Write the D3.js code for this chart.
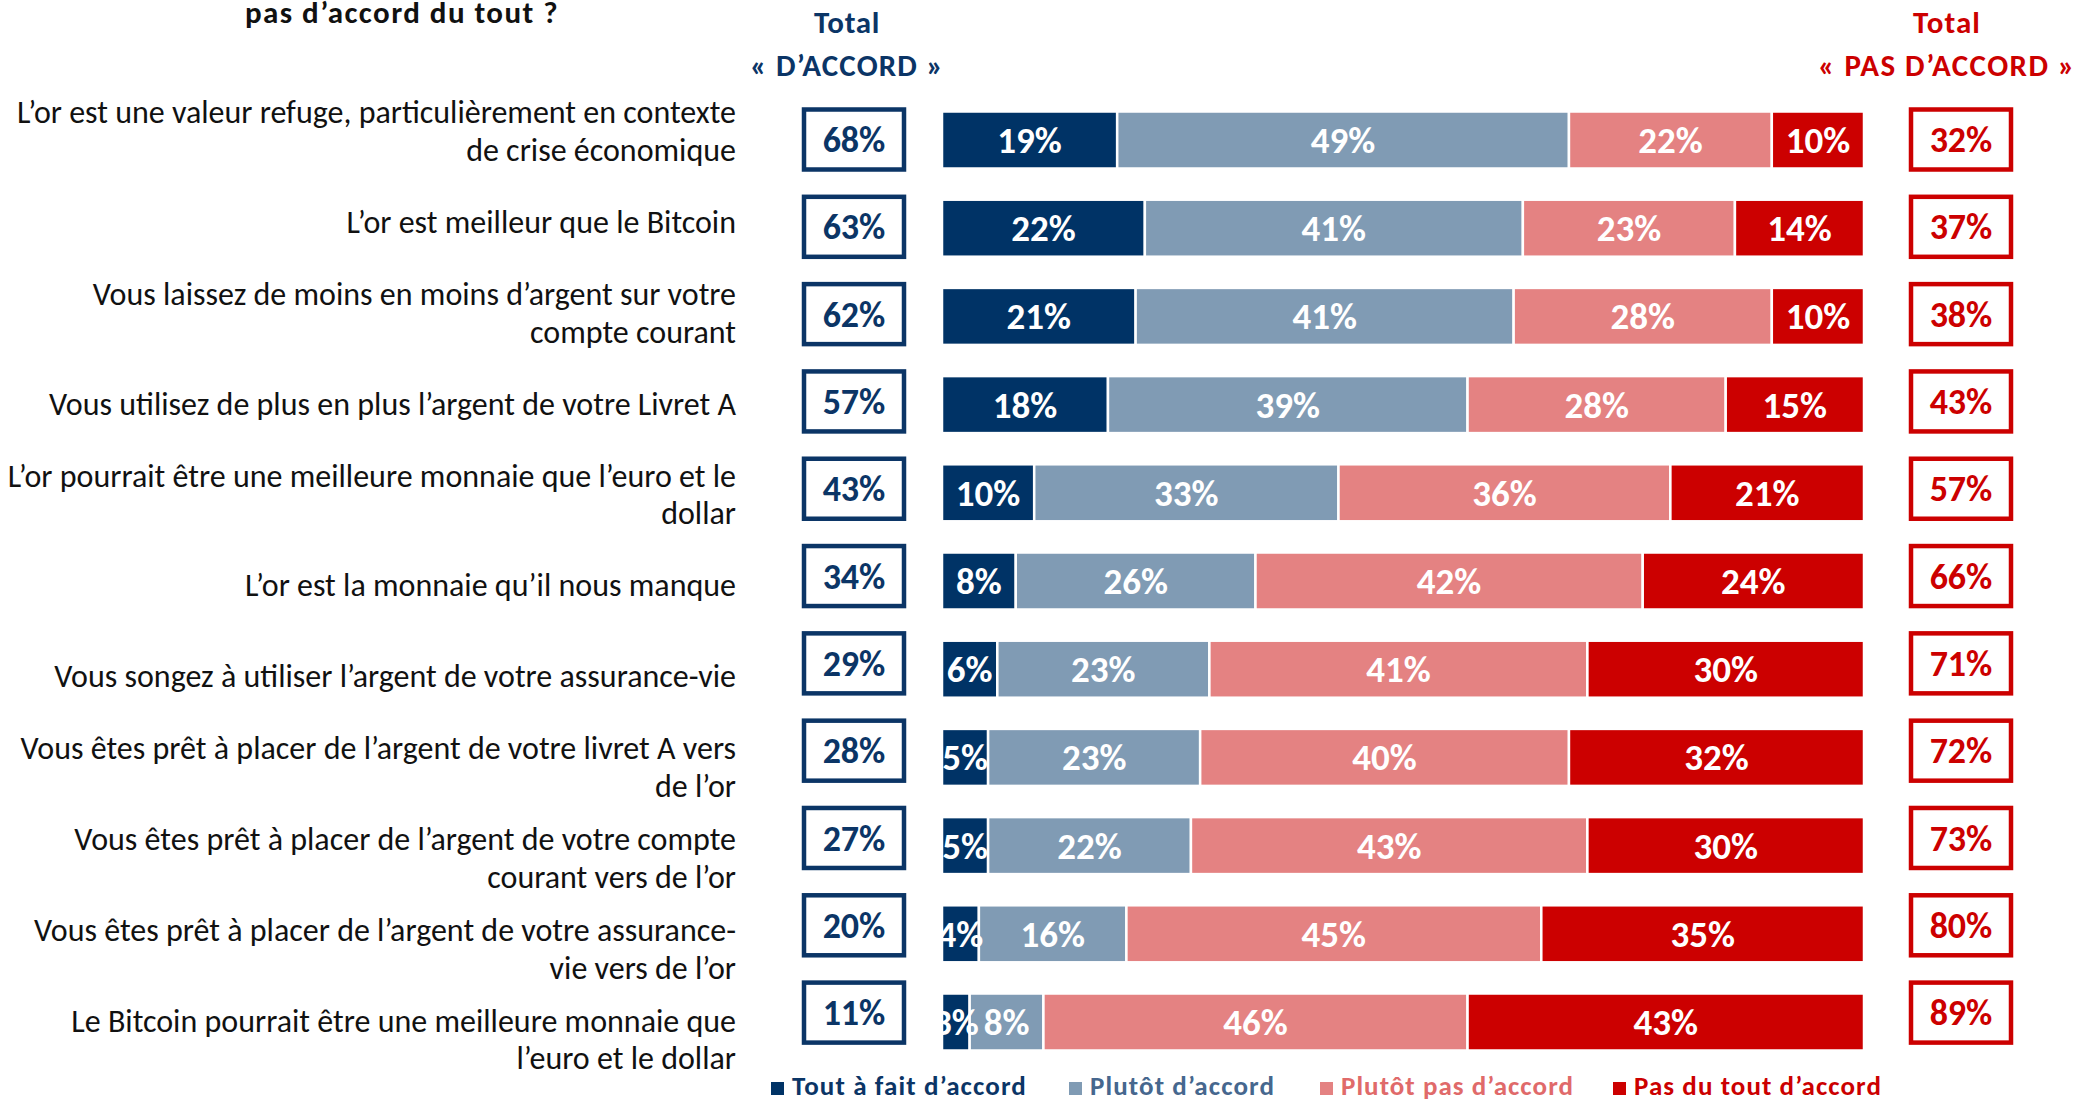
<!DOCTYPE html>
<html>
<head>
<meta charset="utf-8">
<script src="https://cdn.jsdelivr.net/npm/d3@7"></script>
<style>
html, body { margin: 0; padding: 0; background: #fff; overflow: hidden; }
svg { display: block; }
text { font-family: Carlito, Calibri, Lato, "Open Sans", sans-serif; }
</style>
</head>
<body>
<svg id="chart" width="2095" height="1104"></svg>
<script>
// ---- DATA ----
const categories = [
  "L’or est une valeur refuge, particulièrement en contexte\nde crise économique",
  "L’or est meilleur que le Bitcoin",
  "Vous laissez de moins en moins d’argent sur votre\ncompte courant",
  "Vous utilisez de plus en plus l’argent de votre Livret A",
  "L’or pourrait être une meilleure monnaie que l’euro et le\ndollar",
  "L’or est la monnaie qu’il nous manque",
  "Vous songez à utiliser l’argent de votre assurance-vie",
  "Vous êtes prêt à placer de l’argent de votre livret A vers\nde l’or",
  "Vous êtes prêt à placer de l’argent de votre compte\ncourant vers de l’or",
  "Vous êtes prêt à placer de l’argent de votre assurance-\nvie vers de l’or",
  "Le Bitcoin pourrait être une meilleure monnaie que\nl’euro et le dollar"
];
const toutAFait   = [19, 22, 21, 18, 10, 8, 6, 5, 5, 4, 3];
const plutot      = [49, 41, 41, 39, 33, 26, 23, 23, 22, 16, 8];
const plutotPas   = [22, 23, 28, 28, 36, 42, 41, 40, 43, 45, 46];
const pasDuTout   = [10, 14, 10, 15, 21, 24, 30, 32, 30, 35, 43];
const totalAccord    = [68, 63, 62, 57, 43, 34, 29, 28, 27, 20, 11];
const totalPasAccord = [32, 37, 38, 43, 57, 66, 71, 72, 73, 80, 89];
const seriesNames = ["Tout à fait d’accord", "Plutôt d’accord", "Plutôt pas d’accord", "Pas du tout d’accord"];
const titleText = "pas d’accord du tout ?";
const headerAccord = ["Total", "« D’ACCORD »"];
const headerPasAccord = ["Total", "« PAS D’ACCORD »"];

// ---- STYLE ----
const barColors = ["#003366", "#809bb4", "#e48282", "#cc0000"];
const legendTextColors = ["#0b3566", "#46678e", "#e06a6a", "#cc0000"];
const navy = "#0b3566", red = "#cc0000";

const svg = d3.select("#chart");

// widen text via letter-spacing so that it spans a target width
function fitSpacing(sel, target) {
  sel.each(function () {
    const n = this.textContent.length;
    const w = this.getComputedTextLength();
    if (n > 1 && w < target) d3.select(this).attr("letter-spacing", (target - w) / n);
  });
}

const table = categories.map((c, i) => ({
  cat: c,
  [seriesNames[0]]: toutAFait[i],
  [seriesNames[1]]: plutot[i],
  [seriesNames[2]]: plutotPas[i],
  [seriesNames[3]]: pasDuTout[i]
}));
const stacked = d3.stack().keys(seriesNames)(table);

const x = d3.scaleLinear().domain([0, 100]).range([942, 1864]);
const yBar = d3.scalePoint().domain(categories).range([140, 1022]);
const yBox = d3.scalePoint().domain(categories).range([139.5, 1012.6]);
const yLab = d3.scalePoint().domain(categories).range([131, 1039.5]);
const color = d3.scaleOrdinal().domain(seriesNames).range(barColors);
const barH = 57;

// Title (clipped at top, as in the source slide)
const title = svg.append("text").attr("x", 402).attr("y", 23).attr("text-anchor", "middle")
  .attr("font-size", 31).attr("font-weight", 700).attr("fill", "#111").text(titleText);
fitSpacing(title, 314);

// Headers
[[headerAccord, 847, navy, [66, 194]], [headerPasAccord, 1947, red, [68, 258]]].forEach(([lines, cx, col, tw]) => {
  const t1 = svg.append("text").attr("x", cx).attr("y", 33).attr("text-anchor", "middle")
    .attr("font-size", 31).attr("font-weight", 700).attr("fill", col).text(lines[0]);
  const t2 = svg.append("text").attr("x", cx).attr("y", 76).attr("text-anchor", "middle")
    .attr("font-size", 31).attr("font-weight", 700).attr("fill", col).text(lines[1]);
  fitSpacing(t1, tw[0]);
  fitSpacing(t2, tw[1]);
});

// Category labels
const labG = svg.append("g");
const labels = labG.selectAll("text").data(categories).join("text")
  .attr("text-anchor", "end").attr("fill", "#111").attr("font-size", 28);
labels.each(function (d) {
  const lines = d.split("\n");
  const lh = 37.5;
  const el = d3.select(this);
  lines.forEach((ln, k) => {
    el.append("tspan").attr("x", 736)
      .attr("y", yLab(d) + (k - (lines.length - 1) / 2) * lh)
      .attr("dy", "0.35em").text(ln);
  });
});
const probe = labels.filter((d, i) => i === 0).select("tspan").node();
const w0 = probe.getComputedTextLength();
labels.attr("font-size", 28 * 719 / w0);

// Bars
const segG = svg.append("g");
segG.selectAll("g").data(stacked).join("g").attr("fill", d => color(d.key))
  .selectAll("rect").data(d => d).join("rect")
  .attr("x", d => x(d[0]))
  .attr("width", d => x(d[1]) - x(d[0]))
  .attr("y", d => yBar(d.data.cat) - barH / 2)
  .attr("height", barH)
  .attr("stroke", "#fff").attr("stroke-width", 2.5);

// Segment labels (drawn after all bars)
const valG = svg.append("g");
stacked.forEach(s => {
  valG.selectAll(null).data(s).join("text")
    .attr("x", d => (x(d[0]) + x(d[1])) / 2)
    .attr("y", d => yBar(d.data.cat))
    .attr("dy", "0.35em")
    .attr("text-anchor", "middle")
    .attr("font-size", 37).attr("font-weight", 700).attr("fill", "#fff")
    .text(d => (d[1] - d[0]) + "%");
});

// Total boxes
function boxes(values, cx, col) {
  const g = svg.append("g");
  const bw = 100, bh = 60;
  g.selectAll("rect").data(values).join("rect")
    .attr("x", cx - bw / 2).attr("width", bw)
    .attr("y", (d, i) => yBox(categories[i]) - bh / 2).attr("height", bh)
    .attr("fill", "#fff").attr("stroke", col).attr("stroke-width", 4.5);
  g.selectAll("text").data(values).join("text")
    .attr("x", cx).attr("y", (d, i) => yBox(categories[i])).attr("dy", "0.35em")
    .attr("text-anchor", "middle").attr("font-size", 36).attr("font-weight", 700)
    .attr("fill", col).text(d => d + "%");
}
boxes(totalAccord, 854, navy);
boxes(totalPasAccord, 1961, red);

// Legend
const legendX = [771, 1069, 1320, 1613];
const legendW = [235, 185, 233, 248];
const lg = svg.append("g");
seriesNames.forEach((n, i) => {
  lg.append("rect").attr("x", legendX[i]).attr("y", 1082).attr("width", 13).attr("height", 13)
    .attr("fill", barColors[i]);
  const t = lg.append("text").attr("x", legendX[i] + 21).attr("y", 1095)
    .attr("font-size", 27).attr("font-weight", 700).attr("fill", legendTextColors[i]).text(n);
  fitSpacing(t, legendW[i]);
});
</script>
</body>
</html>
